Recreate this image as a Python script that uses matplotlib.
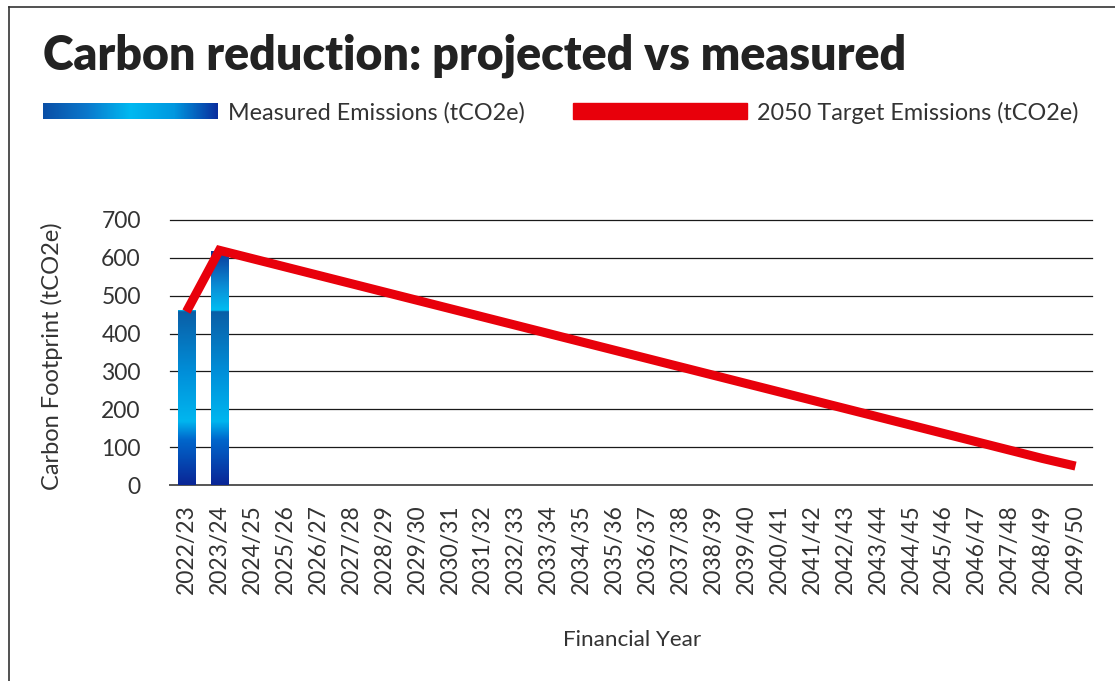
import matplotlib.pyplot as plt
import numpy as np
from matplotlib.colors import LinearSegmentedColormap
from matplotlib.lines import Line2D

years = ['2022/23', '2023/24', '2024/25', '2025/26', '2026/27', '2027/28', '2028/29',
         '2029/30', '2030/31', '2031/32', '2032/33', '2033/34', '2034/35', '2035/36',
         '2036/37', '2037/38', '2038/39', '2039/40', '2040/41', '2041/42', '2042/43',
         '2043/44', '2044/45', '2045/46', '2046/47', '2047/48', '2048/49', '2049/50']
measured = [462, 618]
target = [458, 620, 598, 576, 554, 532, 510, 488, 466, 444, 422, 400, 378, 356,
          334, 312, 290, 268, 246, 224, 202, 180, 158, 136, 114, 92, 70, 50]

title = 'Carbon reduction: projected vs measured'
font = 'Lato'
W, H = 1115, 681

fig = plt.figure(figsize=(W / 100, H / 100), dpi=100)

# border of the panel (only left and top visible)
fig.add_artist(Line2D([9 / W, 9 / W], [0, 1 - 7 / H], color='#333333', lw=1.2))
fig.add_artist(Line2D([9 / W, 1], [1 - 7 / H, 1 - 7 / H], color='#333333', lw=1.2))

fig.text(43 / W, 1 - 70 / H, title, fontsize=33.5, fontweight='heavy', family=font,
         color='#222222', va='baseline', ha='left')

# legend
blue_cmap = LinearSegmentedColormap.from_list(
    'leg', ['#0a4fa6', '#0a78cc', '#00b9f1', '#0098e0', '#0a2f9e'])
lax = fig.add_axes([43 / W, 1 - 119 / H, 175 / W, 16 / H])
lax.imshow(np.linspace(0, 1, 200)[None, :], aspect='auto', cmap=blue_cmap)
lax.axis('off')
fig.text(228 / W, 1 - 120 / H, 'Measured Emissions (tCO2e)', fontsize=16.8,
         family=font, color='#333333', va='baseline')
fig.add_artist(plt.Rectangle((573 / W, 1 - 119 / H), 174 / W, 16 / H,
                             color='#e8000b', transform=fig.transFigure))
fig.text(757 / W, 1 - 120 / H, '2050 Target Emissions (tCO2e)', fontsize=16.8,
         family=font, color='#333333', va='baseline')

ax = fig.add_axes([170 / W, 1 - 485 / H, 922 / W, 265 / H])
x = np.arange(len(years))

bars = ax.bar(x[:len(measured)], measured, width=0.52, color='none', zorder=2)

# vertical gradient, clipped to the bars
bar_cmap = LinearSegmentedColormap.from_list('bar', [
    (0.0, '#0a2696'), (0.17, '#0067cc'), (0.24, '#00b6ef'), (0.42, '#0090da'),
    (0.655, '#0a5ea6'), (0.66, '#00bdf2'), (0.75, '#0a8ed6'), (0.89, '#0a3598'),
    (1.0, '#0a2a96')])
grad = np.linspace(0, 1, 700)[:, None]
for b in bars:
    im = ax.imshow(grad, cmap=bar_cmap, origin='lower', aspect='auto',
                   extent=[-0.5, len(years) - 0.5, 0, 700], zorder=2)
    im.set_clip_path(b)

ax.plot(x, target, color='#e8000b', lw=6.5, solid_capstyle='butt',
        solid_joinstyle='miter', zorder=3)

ax.set_xlim(-0.5, len(years) - 0.5)
ax.set_ylim(0, 700)
ax.set_yticks(range(0, 701, 100))
for yv in range(0, 701, 100):
    ax.axhline(yv, color='#555555' if yv == 0 else '#1a1a1a',
               lw=1.4 if yv == 0 else 0.9, zorder=1, clip_on=False)
ax.set_xticks(x)
ax.set_xticklabels(years, rotation=90)
for s in ax.spines.values():
    s.set_visible(False)
ax.tick_params(length=0, labelsize=16.5, labelcolor='#333333')
ax.tick_params(axis='y', pad=21)
ax.tick_params(axis='x', pad=14)
for lbl in ax.get_xticklabels() + ax.get_yticklabels():
    lbl.set_family(font)

fig.text(52 / W, 1 - 356 / H, 'Carbon Footprint (tCO2e)', rotation=90, fontsize=17,
         family=font, color='#333333', ha='center', va='center')
fig.text(632 / W, 1 - 640 / H, 'Financial Year', fontsize=16.2, family=font,
         color='#333333', ha='center', va='center')

fig.savefig('out.png', dpi=100)
